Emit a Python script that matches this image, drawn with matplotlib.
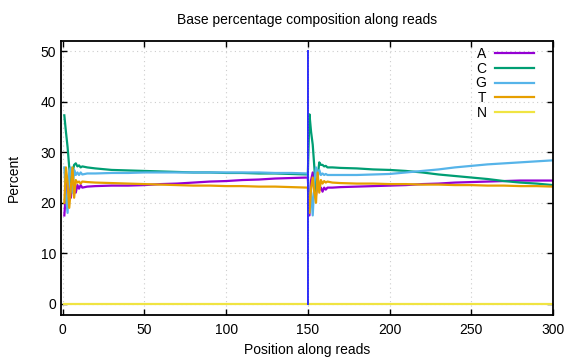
import matplotlib.pyplot as plt

plt.rcParams['font.family'] = ['Liberation Sans', 'DejaVu Sans']
plt.rcParams['font.size'] = 10

# === 데이터 (read 1: 1-150, read 2: 151-300) ===
pos1 = list(range(1, 13)) + [15, 20, 30, 40, 50, 60, 70, 80, 90, 100, 110, 120, 130, 140, 150]
pos2 = list(range(151, 163)) + [165, 170, 180, 190, 200, 210, 220, 230, 240, 250, 260, 270, 280, 290, 300]

a_r1 = [17.5, 22, 25, 22, 21, 24.5, 23.5, 22, 23.5, 22.8, 23.5, 23.0,
        23.2, 23.3, 23.4, 23.4, 23.5, 23.7, 23.8, 24.0, 24.2, 24.3, 24.5, 24.6, 24.8, 24.9, 25.0]
c_r1 = [37.3, 34, 31, 27, 24, 26, 27.5, 27.8, 27.2, 27.4, 27.0, 27.2,
        27.0, 26.8, 26.5, 26.4, 26.3, 26.2, 26.1, 26.0, 26.0, 25.9, 25.9, 25.8, 25.8, 25.7, 25.6]
g_r1 = [27, 21, 18, 26, 27, 22, 26.5, 25.5, 26, 25.5, 26, 25.6,
        25.8, 25.8, 25.9, 25.9, 26.0, 26.0, 26.0, 26.0, 26.0, 26.0, 26.0, 26.0, 25.9, 25.9, 25.8]
t_r1 = [20, 27, 24, 19, 23, 27, 21, 24.5, 24, 24.2, 23.8, 24.2,
        24.1, 24.0, 23.9, 23.8, 23.7, 23.6, 23.5, 23.4, 23.4, 23.3, 23.3, 23.2, 23.2, 23.1, 23.0]
n_r1 = [0] * 27

a_r2 = [17.5, 24.5, 26, 22, 21.5, 24.5, 22.5, 23, 22.2, 23, 22.6, 23,
        23.0, 23.1, 23.2, 23.3, 23.4, 23.5, 23.7, 23.8, 24.0, 24.1, 24.2, 24.3, 24.4, 24.4, 24.4]
c_r2 = [37.5, 34, 31.5, 27, 22, 25, 28, 27.5, 27.5, 27.2, 27.3, 27.0,
        27.0, 26.9, 26.8, 26.6, 26.5, 26.3, 26.0, 25.6, 25.3, 25.0, 24.7, 24.3, 24.0, 23.8, 23.5]
g_r2 = [18, 22, 17.5, 24, 27, 25, 26.5, 25.5, 25.8, 25.5, 25.7, 25.5,
        25.5, 25.5, 25.5, 25.6, 25.7, 26.0, 26.3, 26.6, 27.0, 27.3, 27.6, 27.8, 28.0, 28.2, 28.4]
t_r2 = [18, 23, 25, 22, 20, 26, 22, 24.5, 23.8, 24.3, 24, 24.2,
        24.0, 23.9, 23.8, 23.8, 23.7, 23.7, 23.6, 23.6, 23.5, 23.5, 23.4, 23.4, 23.3, 23.3, 23.2]
n_r2 = [0] * 27

sep_x = [150, 150]
sep_y = [0, 50]

bases = ['A', 'C', 'G', 'T', 'N']
colors = ['#9400D3', '#009E73', '#56B4E9', '#E69F00', '#F0E442']

# === 그리기 ===
fig = plt.figure(figsize=(5.76, 3.6), dpi=100)
ax = fig.add_axes([0.106, 0.125, 0.854, 0.761])

pos = pos1 + pos2
series = [a_r1 + a_r2, c_r1 + c_r2, g_r1 + g_r2, t_r1 + t_r2, n_r1 + n_r2]
for name, col, vals in zip(bases, colors, series):
    ax.plot(pos, vals, color=col, lw=1.6, label=name)

ax.plot(sep_x, sep_y, color='#2a2aff', lw=1.4)
ax.plot(sep_x, sep_y, color='#5050d0', lw=0.5, ls=(0, (2, 2)))

ax.set_xlim(-1, 300)
ax.set_ylim(-2.2, 52)
ax.set_xticks(range(0, 301, 50))
ax.set_yticks(range(0, 51, 10))
ax.grid(True, color='#cccccc', lw=0.8, ls=(0, (1, 3)))
ax.tick_params(direction='in', top=True, right=True, length=4, width=1)
ax.tick_params(axis='x', pad=6)
for s in ax.spines.values():
    s.set_linewidth(1.3)

ax.set_title('Base percentage composition along reads', fontsize=10, pad=12)
ax.set_xlabel('Position along reads', labelpad=4)
ax.set_ylabel('Percent', labelpad=14)

ax.legend(loc='upper right', bbox_to_anchor=(0.961, 0.978), frameon=False,
          markerfirst=False, handlelength=2.8, handletextpad=0.6,
          labelspacing=0.05, borderpad=0, borderaxespad=0, fontsize=10)

plt.savefig('out.png', dpi=100)
